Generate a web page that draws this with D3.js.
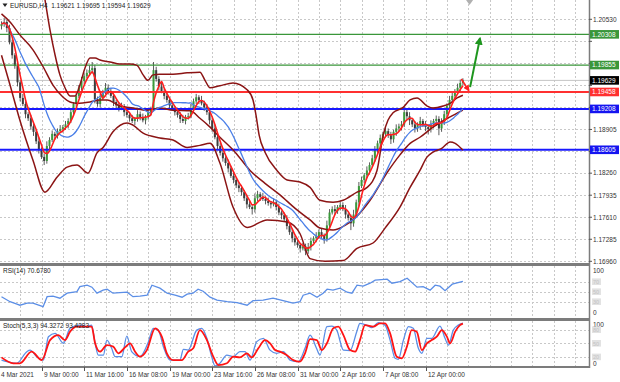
<!DOCTYPE html>
<html>
<head>
<meta charset="utf-8">
<script src="https://cdn.jsdelivr.net/npm/d3@7"></script>
<style>
  body { margin: 0; background: #fff; }
  svg { display: block; font-family: "Liberation Sans", Arial, sans-serif; }
</style>
</head>
<body>
<svg id="chart" width="620" height="382"></svg>
<script>
// ---- data (EURUSD H4) ----
const firstOpen = 1.2043;
const closes = [
  1.2046,1.2049,1.2040,1.2019,1.2000,1.1984,1.1960,1.1937,1.1928,1.1913,
  1.1907,1.1895,1.1887,1.1873,1.1860,1.1850,1.1844,1.1866,1.1875,1.1884,
  1.1881,1.1888,1.1891,1.1894,1.1898,1.1903,1.1916,1.1928,1.1940,1.1952,
  1.1962,1.1969,1.1974,1.1978,1.1981,1.1935,1.1928,1.1937,1.1946,1.1952,
  1.1947,1.1940,1.1931,1.1926,1.1922,1.1925,1.1916,1.1912,1.1907,1.1903,
  1.1906,1.1913,1.1909,1.1904,1.1909,1.1916,1.1920,1.1978,1.1965,1.1954,
  1.1947,1.1940,1.1934,1.1926,1.1922,1.1916,1.1912,1.1906,1.1903,1.1909,
  1.1910,1.1922,1.1932,1.1938,1.1934,1.1929,1.1923,1.1916,1.1904,1.1892,
  1.1879,1.1866,1.1856,1.1848,1.1841,1.1833,1.1822,1.1816,1.1808,1.1804,
  1.1798,1.1789,1.1780,1.1776,1.1773,1.1789,1.1795,1.1791,1.1788,1.1785,
  1.1782,1.1780,1.1783,1.1776,1.1768,1.1764,1.1758,1.1748,1.1739,1.1730,
  1.1724,1.1720,1.1715,1.1718,1.1711,1.1717,1.1726,1.1730,1.1733,1.1739,
  1.1734,1.1729,1.1749,1.1768,1.1773,1.1770,1.1776,1.1779,1.1773,1.1765,
  1.1760,1.1752,1.1765,1.1783,1.1807,1.1816,1.1823,1.1830,1.1838,1.1848,
  1.1860,1.1870,1.1878,1.1884,1.1888,1.1882,1.1876,1.1887,1.1892,1.1895,
  1.1898,1.1916,1.1910,1.1904,1.1898,1.1892,1.1897,1.1903,1.1898,1.1894,
  1.1891,1.1898,1.1903,1.1906,1.1892,1.1901,1.1913,1.1925,1.1934,1.1940,
  1.1946,1.1952,1.1959,1.1963
];
// wick lengths beyond the body, in pips
const wickUp = [
  4,6,3,5,4,3,5,3,6,4, 3,5,4,3,6,4,5,7,4,5, 3,4,6,3,5,4,6,3,5,4,
  6,4,5,7,9,5,4,6,3,7, 5,4,6,3,4,5,3,6,4,5, 3,6,4,5,3,6,4,12,5,4,
  6,3,5,4,6,3,5,4,6,3, 5,6,4,5,3,6,4,5,3,4, 6,3,5,4,3,5,4,6,3,5,
  4,3,5,6,4,7,5,3,6,4, 5,3,6,4,5,3,4,6,3,5, 4,6,3,5,4,6,5,3,6,4,
  5,3,7,5,4,6,3,5,4,6, 3,5,7,4,6,5,3,6,4,5, 6,4,5,3,6,4,5,3,6,4,
  5,8,4,6,3,5,4,6,3,5, 4,6,3,5,4,6,5,4,6,5, 4,6,5,3
];
const wickDn = [
  5,4,6,3,5,4,6,5,3,6, 4,5,6,4,5,3,6,4,5,3, 6,4,3,5,4,6,3,5,4,3,
  4,5,3,4,5,6,4,5,3,4, 5,3,6,4,5,3,6,4,5,3, 6,4,5,3,6,4,5,3,4,6,
  3,5,4,6,3,5,4,6,3,5, 4,3,5,4,6,3,5,4,6,5, 3,6,4,5,4,6,3,5,4,6,
  5,4,6,3,8,5,4,6,3,5, 4,6,3,5,4,6,3,5,4,6, 5,4,6,3,6,4,5,3,6,4,
  5,7,4,5,3,6,4,5,3,6, 4,10,5,4,6,3,5,4,6,3, 5,4,6,3,5,4,7,5,6,4,
  6,4,5,7,4,6,5,7,4,6, 8,5,6,7,10,5,4,6,3,5, 4,3,5,4
];

// band lines (dark red), [bar, price]
const bandUpper = [
  [14.4,1.2126],[16.3,1.2082],[18.2,1.2037],[20.1,1.2000],[21.9,1.1971],[23.8,1.1952],
  [25.7,1.1940],[27.6,1.1940],[29.4,1.1956],[31.3,1.1981],[33.2,1.1996],[35.1,1.1996],
  [36.9,1.1993],[40.7,1.1990],[44.4,1.1987],[48.2,1.1987],[50.8,1.1985],[53.1,1.1971],
  [54.9,1.1963],[56.8,1.1971],[59.4,1.1972],[64.3,1.1972],[69.6,1.1974],[74.4,1.1975],
  [76.3,1.1963],[78.2,1.1952],[81.9,1.1955],[86.8,1.1959],[92.1,1.1949],[94.3,1.1934],
  [95.4,1.1912],[96.6,1.1882],[98.8,1.1857],[103.3,1.1830],[107.1,1.1816],[111.9,1.1813],
  [115.7,1.1805],[119.4,1.1786],[124.3,1.1783],[128.1,1.1786],[133.3,1.1798],[137.1,1.1805],
  [140.8,1.1830],[143.1,1.1882],[144.9,1.1904],[146.8,1.1915],[150.6,1.1923],[153.2,1.1934],
  [155.8,1.1937],[159.6,1.1925],[161.8,1.1922],[165.6,1.1925],[168.2,1.1929],[170.8,1.1937],
  [173,1.1941]
];
const bandMiddle = [
  [0,1.2061],[3.2,1.2049],[6.9,1.2030],[11.8,1.2008],[15.6,1.1983],[19.3,1.1956],
  [23.1,1.1938],[25.7,1.1931],[28.3,1.1929],[33.2,1.1931],[36.9,1.1934],[39.6,1.1934],
  [44.4,1.1925],[49.3,1.1922],[54.6,1.1919],[59.4,1.1922],[64.3,1.1919],[70.7,1.1918],
  [74.4,1.1907],[78.2,1.1894],[81.9,1.1879],[87.6,1.1857],[93.2,1.1830],[98.8,1.1811],
  [104.4,1.1794],[110.1,1.1774],[115.7,1.1757],[119.4,1.1745],[124.3,1.1742],[128.8,1.1749],
  [132.6,1.1760],[138.2,1.1786],[144.6,1.1827],[149.4,1.1853],[153.2,1.1870],[156.9,1.1879],
  [161.8,1.1894],[168.2,1.1909],[173,1.1919]
];
const bandLower = [
  [0,1.2000],[3.2,1.1956],[6.9,1.1904],[11.8,1.1845],[16.3,1.1798],[20.8,1.1820],
  [24.6,1.1835],[28.3,1.1838],[32.4,1.1826],[35.8,1.1856],[38.1,1.1864],[41.8,1.1887],
  [47.1,1.1900],[49.3,1.1897],[53.1,1.1885],[59.4,1.1878],[64.3,1.1875],[69.6,1.1864],
  [74.4,1.1867],[78.2,1.1870],[81.9,1.1841],[86.8,1.1776],[92.1,1.1746],[99.6,1.1757],
  [107.1,1.1754],[111.9,1.1737],[115.7,1.1700],[121.3,1.1696],[128.1,1.1697],[133.3,1.1715],
  [139.3,1.1723],[143.8,1.1745],[149.4,1.1776],[153.2,1.1805],[156.9,1.1830],[159.6,1.1850],
  [161.8,1.1857],[165.2,1.1863],[168.2,1.1872],[170.1,1.1870],[173,1.1860]
];

// RSI(14), [bar, value]
const rsiPoints = [
  [0,40],[3.2,30],[5.8,25],[6.9,23],[9.6,27],[11.8,27],[15.6,20],[17.1,40],[19.3,41],
  [21.9,37],[24.6,47],[28.3,50],[29.4,60],[32.1,63],[33.9,59],[35.8,47],[38.1,53],
  [39.6,55],[41.8,47],[44.4,48],[47.1,49],[49.3,40],[51.9,41],[54.6,43],[56.4,63],
  [59.4,57],[62.1,47],[65.1,43],[67.7,39],[69.6,45],[71.8,47],[73.7,55],[75.6,51],
  [78.2,39],[80.8,33],[84.6,30],[88.3,28],[92.1,23],[94.3,32],[98.1,33],[101.8,37],
  [105.6,32],[109.3,27],[111.9,30],[113.1,43],[115.7,47],[118.3,39],[120.6,47],
  [122.1,55],[124.3,53],[126.9,57],[129.6,49],[131.4,47],[133.3,63],[135.6,61],
  [138.2,67],[140.1,73],[144.6,75],[146.4,67],[149.4,70],[152.1,77],[155.8,59],
  [158.1,60],[160.7,53],[162.6,63],[164.4,61],[166.3,52],[169,65],[173,70.68]
];
// Stochastic(5,3,3) main and signal, [bar, value]
const stochMain = [
  [0,13],[2,9.5],[5.7,6],[9.5,31.5],[10.7,35],[13.2,20.6],[15.7,13],[17.6,64.6],[20.1,72],
  [23.2,50],[25.7,83],[29.4,90],[32,86.6],[33.8,90],[35.1,50],[36.3,24],[38.2,24],[39.5,57],
  [41.3,39],[42.6,20.6],[45.1,20.6],[47,66],[48.8,31.5],[51.9,20.6],[55.1,53.6],[56.9,83],
  [58.8,79],[60.7,42.6],[63.2,13],[66.9,13],[68.2,36.7],[70,35],[73.2,79],[75.1,83],[77,61],
  [78.8,20.6],[80.1,0],[81.9,6],[84.5,24],[86.9,20.6],[89.4,31.5],[91.3,31.5],[93.2,13],
  [95.7,53.6],[98.2,61],[100.7,35],[103.2,28],[105.7,31.5],[108.2,13],[111.3,9.5],[113.8,39],
  [115.7,68],[118.1,39],[119.4,24],[122,86.6],[123.8,88],[125.7,79],[128.2,35],[130.7,34],
  [133.2,75.6],[134.4,94],[136.9,90],[138.8,84.4],[141.3,95.4],[143.8,90],[145.7,57],
  [147.6,17],[148.8,14.7],[150.7,57],[152.6,86.6],[154.4,83],[156.3,39],[157.6,28],
  [159.5,61],[161.3,61],[164.4,88],[166.3,61],[167.6,46],[169.4,79],[171.3,90],[173,94.33]
];
const stochSignal = [
  [0,19],[4.4,6],[6.9,6],[11.3,31.5],[15.1,13],[18.2,57],[21.3,68],[23.8,57],[25.7,75.6],
  [28.2,86.6],[33.8,86.6],[35.1,50],[36.9,31.5],[39.5,46],[41.9,42.6],[43.8,28],[46.3,41],
  [48.2,50],[50.1,31.5],[51.9,20.6],[54.5,35],[57.6,83],[60.1,64.6],[62,28],[64.4,13],
  [67.6,13],[70,31.5],[71.9,39],[74.4,79],[77,57],[79.4,20.6],[81.3,2],[84.5,6],[86.9,20.6],
  [89.4,19],[92,28],[93.8,19],[96.3,39],[98.8,57],[100.7,50],[102.6,35],[104.4,31.5],
  [106.9,24],[109.4,13],[111.9,9.5],[113.8,28],[115.7,59],[118.2,57],[120.1,35],[122,50],
  [124.4,83],[126.3,86.6],[128.2,68],[130.7,35],[132.6,31.5],[134.4,57],[136.3,90],
  [139.4,86.6],[141.9,94],[143.8,94],[145.7,72],[148.2,20.6],[150.1,17],[152,42.6],
  [153.8,79],[155.7,75.6],[157.6,35],[159.5,50],[161.3,57],[163.2,64.6],[165.1,79],
  [167,64.6],[168.2,50],[170.1,75.6],[171.9,90],[173,93.43]
];

// horizontal levels and labels
const levelValues = [1.20308, 1.19855, 1.19458, 1.19208, 1.18605];
const levelColors = ["#3a963a", "#3a963a", "#ff3030", "#1818ff", "#1818ff"];
const levelWidths = [1.2, 1.2, 2, 2, 2];
const lastPrice = 1.19629;
const priceTicks = ["1.20530","1.20205","1.19880","1.19555","1.19230","1.18905",
                    "1.18580","1.18260","1.17935","1.17610","1.17285","1.16960"];
const rsiLevels = [70, 50, 30];
const stochLevels = [80, 50, 20];
const timeIdx = [15, 31, 47, 63, 79, 95, 111, 127, 143, 159];
const timeLabels = ["9 Mar 00:00","11 Mar 16:00","16 Mar 08:00","19 Mar 00:00","23 Mar 16:00",
                    "26 Mar 08:00","31 Mar 00:00","2 Apr 16:00","7 Apr 08:00","12 Apr 00:00"];

// ---- layout ----
const svg = d3.select("#chart");
const plotR = 589;
const mainB = 263, rsiT = 266, rsiB = 318, stT = 321, stB = 366;

const x = d3.scaleLinear().domain([0, 173]).range([1.5, 462.9]);
const yMain = d3.scaleLinear().domain([1.16960, 1.20530]).range([261.3, 19.3]);
const yRsi = d3.scaleLinear().domain([0, 100]).range([316.7, 266.7]);
const ySt = d3.scaleLinear().domain([0, 100]).range([366, 320.6]);

const defs = svg.append("defs");
function clip(id, y0, y1) {
  defs.append("clipPath").attr("id", id).append("rect")
    .attr("x", 0).attr("y", y0).attr("width", plotR).attr("height", y1 - y0);
}
clip("cMain", 0, mainB); clip("cRsi", rsiT, rsiB); clip("cSt", stT, stB);
function arrow(id, color) {
  defs.append("marker").attr("id", id).attr("viewBox", "0 0 10 10")
    .attr("refX", 8).attr("refY", 5).attr("markerWidth", 4).attr("markerHeight", 4)
    .attr("orient", "auto").append("path").attr("d", "M0,0L10,5L0,10z").attr("fill", color);
}
arrow("arGreen", "#1e961e"); arrow("arRed", "#ff2020");

// ---- grid ----
const grid = svg.append("g").attr("stroke", "#c8c8c8").attr("stroke-dasharray", "2,2");
const gridIdx = d3.range(-1, 216, 8);
[[0, mainB], [rsiT, rsiB], [stT, stB]].forEach(([a, b]) => {
  grid.selectAll(null).data(gridIdx).enter().append("line")
    .attr("x1", d => Math.round(x(d)) + 0.5).attr("x2", d => Math.round(x(d)) + 0.5)
    .attr("y1", a).attr("y2", b);
});
grid.selectAll(null).data(priceTicks).enter().append("line")
  .attr("x1", 0).attr("x2", plotR)
  .attr("y1", d => Math.round(yMain(+d)) + 0.5).attr("y2", d => Math.round(yMain(+d)) + 0.5);
grid.selectAll(null).data(rsiLevels).enter().append("line")
  .attr("x1", 0).attr("x2", plotR)
  .attr("y1", d => Math.round(yRsi(d)) + 0.5).attr("y2", d => Math.round(yRsi(d)) + 0.5);
grid.selectAll(null).data(stochLevels).enter().append("line")
  .attr("x1", 0).attr("x2", plotR)
  .attr("y1", d => Math.round(ySt(d)) + 0.5).attr("y2", d => Math.round(ySt(d)) + 0.5);

// ---- main panel ----
const main = svg.append("g").attr("clip-path", "url(#cMain)");

// bid line
main.append("line").attr("x1", 0).attr("x2", plotR)
  .attr("y1", yMain(lastPrice)).attr("y2", yMain(lastPrice))
  .attr("stroke", "#c4c4c4").attr("stroke-width", 1);

const bars = closes.map((c, i) => {
  const o = i === 0 ? firstOpen : closes[i - 1];
  return { i, o, c, h: Math.max(o, c) + wickUp[i] / 10000, l: Math.min(o, c) - wickDn[i] / 10000 };
});
main.selectAll(".wick").data(bars).enter().append("line")
  .attr("x1", d => x(d.i)).attr("x2", d => x(d.i))
  .attr("y1", d => yMain(d.h)).attr("y2", d => yMain(d.l))
  .attr("stroke", "#4a4a4a").attr("stroke-width", 0.9);
main.selectAll(".body").data(bars).enter().append("rect")
  .attr("x", d => x(d.i) - 1).attr("width", 2)
  .attr("y", d => yMain(Math.max(d.o, d.c)))
  .attr("height", d => Math.max(1, Math.abs(yMain(d.o) - yMain(d.c))))
  .attr("fill", d => d.c >= d.o ? "#3a9a3a" : "#3c3c3c");

// levels
main.selectAll(".lvl").data(levelValues).enter().append("line")
  .attr("x1", 0).attr("x2", plotR)
  .attr("y1", d => yMain(d)).attr("y2", d => yMain(d))
  .attr("stroke", (d, k) => levelColors[k]).attr("stroke-width", (d, k) => levelWidths[k]);

// bands
const bandLine = d3.line().x(d => x(d[0])).y(d => yMain(d[1])).curve(d3.curveMonotoneX);
[bandUpper, bandMiddle, bandLower].forEach(b => {
  main.append("path").attr("d", bandLine(b)).attr("fill", "none")
    .attr("stroke", "#8b1414").attr("stroke-width", 1.5);
});

// moving averages from closes
function sma(n) {
  return closes.map((c, i) => d3.mean(closes.slice(Math.max(0, i - n + 1), i + 1)));
}
const maLine = d3.line().x((d, i) => x(i)).y(d => yMain(d)).curve(d3.curveMonotoneX);
main.append("path").attr("d", maLine(sma(15))).attr("fill", "none")
  .attr("stroke", "#4a7fe8").attr("stroke-width", 1.3);
main.append("path").attr("d", maLine(sma(4))).attr("fill", "none")
  .attr("stroke", "#ff1e1e").attr("stroke-width", 1.6);

// arrows
main.append("line")
  .attr("x1", x(175.7)).attr("y1", yMain(1.1953)).attr("x2", x(179.4)).attr("y2", yMain(1.2025))
  .attr("stroke", "#1e961e").attr("stroke-width", 2).attr("marker-end", "url(#arGreen)");
main.append("line")
  .attr("x1", x(172.4)).attr("y1", yMain(1.1965)).attr("x2", x(175.2)).attr("y2", yMain(1.1948))
  .attr("stroke", "#ff2020").attr("stroke-width", 1.6).attr("marker-end", "url(#arRed)");

// shift marker
svg.append("path")
  .attr("d", `M${x(175.5) - 3.5},0L${x(175.5) + 3.5},0L${x(175.5)},5z`).attr("fill", "#b0b0b0");

// title
svg.append("path").attr("d", "M2.5,3.5L7.5,3.5L5,7z").attr("fill", "#222");
svg.append("text").attr("x", 10).attr("y", 8).attr("font-size", 6.5).attr("fill", "#222")
  .attr("xml:space", "preserve")
  .text("EURUSD,H4  1.19621 1.19695 1.19594 1.19629");

// ---- RSI ----
const rsiG = svg.append("g").attr("clip-path", "url(#cRsi)");
rsiG.append("path")
  .attr("d", d3.line().x(d => x(d[0])).y(d => yRsi(d[1]))(rsiPoints))
  .attr("fill", "none").attr("stroke", "#5b8ee6").attr("stroke-width", 1.3);
svg.append("text").attr("x", 3).attr("y", 273).attr("font-size", 6.5).attr("fill", "#222")
  .text("RSI(14) 70.6780");

// ---- Stochastic ----
const stG = svg.append("g").attr("clip-path", "url(#cSt)");
const stLine = d3.line().x(d => x(d[0])).y(d => ySt(d[1])).curve(d3.curveMonotoneX);
stG.append("path").attr("d", stLine(stochMain)).attr("fill", "none")
  .attr("stroke", "#5b8ee6").attr("stroke-width", 1.3);
stG.append("path").attr("d", stLine(stochSignal)).attr("fill", "none")
  .attr("stroke", "#ff1414").attr("stroke-width", 1.8);
svg.append("text").attr("x", 3).attr("y", 328).attr("font-size", 6.5).attr("fill", "#222")
  .text("Stoch(5,3,3) 94.3272 93.4283");

// ---- frames ----
const frame = svg.append("g").attr("stroke", "#7c7c7c");
frame.append("line").attr("x1", 0).attr("x2", plotR + 1).attr("y1", 264.5).attr("y2", 264.5).attr("stroke-width", 3);
frame.append("line").attr("x1", 0).attr("x2", plotR + 1).attr("y1", 319.5).attr("y2", 319.5).attr("stroke-width", 3);
frame.append("line").attr("x1", 0).attr("x2", plotR + 1).attr("y1", 367).attr("y2", 367).attr("stroke-width", 2);
frame.append("line").attr("x1", plotR + 0.5).attr("x2", plotR + 0.5).attr("y1", 0).attr("y2", 368).attr("stroke-width", 1.5);

// ---- right axis ----
const ax = svg.append("g").attr("font-size", 6.5).attr("fill", "#333");
const tagValues = levelValues.concat([lastPrice]);
priceTicks.forEach(t => {
  const yy = yMain(+t);
  ax.append("line").attr("x1", plotR).attr("x2", plotR + 3).attr("y1", yy).attr("y2", yy).attr("stroke", "#555");
  // tick text sits under a price tag there, as in the terminal: leave it out
  const covered = tagValues.some(v => Math.abs(yMain(v) - yy) < 8);
  if (!covered) ax.append("text").attr("x", 593).attr("y", yy + 2.3).text(t);
});
function tag(v, fill, txt) {
  const yy = yMain(v);
  ax.append("rect").attr("x", plotR + 1).attr("y", yy - 4.3).attr("width", 29).attr("height", 8.6).attr("fill", fill);
  ax.append("text").attr("x", 592).attr("y", yy + 2.3).attr("fill", "#fff").text(txt);
}
levelValues.forEach((v, k) => tag(v, levelColors[k] === "#1818ff" ? "#1414f0" : levelColors[k], v.toFixed(5)));
tag(lastPrice, "#000", lastPrice.toFixed(5));

// oscillator scales
function oscLabels(scale, top, bottom, levels) {
  ax.append("text").attr("x", 593).attr("y", top).text("100");
  ax.append("text").attr("x", 593).attr("y", bottom).text("0");
  levels.forEach(l => {
    const yy = scale(l);
    ax.append("rect").attr("x", 592).attr("y", yy - 3.3).attr("width", 9).attr("height", 6.6).attr("fill", "#e2e2e2");
    ax.append("text").attr("x", 593).attr("y", yy + 2.2).attr("fill", "#c2c2c2").attr("font-size", 5.5).text(l);
  });
}
oscLabels(yRsi, 272.5, 315, rsiLevels);
oscLabels(ySt, 326.5, 366, stochLevels);

// ---- time axis ----
const tx = svg.append("g").attr("font-size", 6.5).attr("fill", "#333");
tx.append("text").attr("x", 1).attr("y", 377).text("4 Mar 2021");
timeIdx.forEach((idx, k) => {
  const xx = Math.round(x(idx)) + 0.5;
  tx.append("line").attr("x1", xx).attr("x2", xx).attr("y1", 367).attr("y2", 371).attr("stroke", "#555");
  tx.append("text").attr("x", xx + 1.5).attr("y", 377).text(timeLabels[k]);
});
</script>
</body>
</html>
